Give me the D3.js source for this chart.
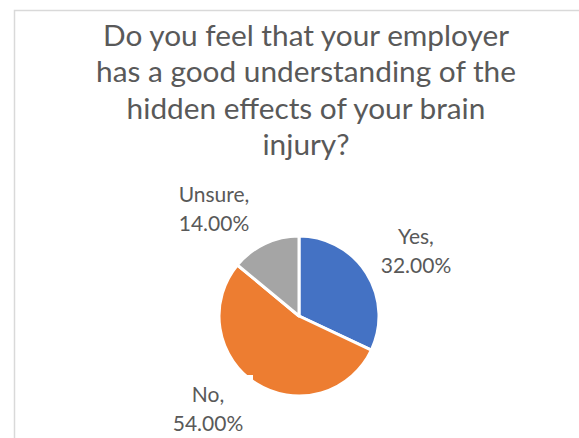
<!DOCTYPE html>
<html>
<head>
<meta charset="utf-8">
<script src="https://cdn.jsdelivr.net/npm/d3@7"></script>
<style>
  body { margin: 0; background: #fff; }
  svg { display: block; }
</style>
</head>
<body>
<div id="chart"></div>
<script>
var width = 579,
  height = 438;

// data
const categories = ['Yes', 'No', 'Unsure'];
const shares = [32, 54, 14];
const sliceColors = ['#4472C4', '#ED7D31', '#A5A5A5'];
const titleLines = [
  'Do you feel that your employer',
  'has a good understanding of the',
  'hidden effects of your brain',
  'injury?'
];

const textColor = '#595959';
const fontFamily = 'Lato, "Open Sans", sans-serif';

const svg = d3.select('#chart')
  .append('svg')
  .attr('width', width)
  .attr('height', height);

// chart area frame (runs off the right and bottom)
svg.append('rect')
  .attr('x', 14.5)
  .attr('y', 10.5)
  .attr('width', 700)
  .attr('height', 600)
  .attr('fill', '#fff')
  .attr('stroke', '#D9D9D9')
  .attr('stroke-width', 1.5);

// title
svg.append('g')
  .selectAll('text')
  .data(titleLines)
  .join('text')
  .attr('x', 306)
  .attr('y', (d, i) => 46 + i * 36.3)
  .attr('text-anchor', 'middle')
  .attr('fill', textColor)
  .style('font-family', fontFamily)
  .style('font-size', '29.8px')
  .text(d => d);

// pie
const cx = 299, cy = 316, r = 80;
const pie = d3.pie().sort(null).value(d => d);
const arc = d3.arc().innerRadius(0).outerRadius(r);

const slices = pie(shares);

svg.append('g')
  .attr('transform', 'translate(' + cx + ',' + cy + ')')
  .selectAll('path')
  .data(slices)
  .join('path')
  .attr('d', arc)
  .attr('fill', (d, i) => sliceColors[i])
  .attr('stroke', '#fff')
  .attr('stroke-width', 3)
  .attr('stroke-linejoin', 'round');

// label positions (centre x, first baseline)
const labelPos = [[416, 244], [208, 402], [214, 202]];

// the "No" label box sits over the pie edge
svg.append('rect')
  .attr('x', 165)
  .attr('y', 375)
  .attr('width', 88)
  .attr('height', 70)
  .attr('fill', '#fff');

const labels = svg.append('g')
  .selectAll('text')
  .data(slices)
  .join('text')
  .attr('text-anchor', 'middle')
  .attr('fill', textColor)
  .style('font-family', fontFamily)
  .style('font-size', '21px');

labels.append('tspan')
  .attr('x', (d, i) => labelPos[i][0])
  .attr('y', (d, i) => labelPos[i][1])
  .text((d, i) => categories[i] + ',');

labels.append('tspan')
  .attr('x', (d, i) => labelPos[i][0])
  .attr('y', (d, i) => labelPos[i][1] + 28.5)
  .text(d => d3.format('.2f')(d.data) + '%');
</script>
</body>
</html>
